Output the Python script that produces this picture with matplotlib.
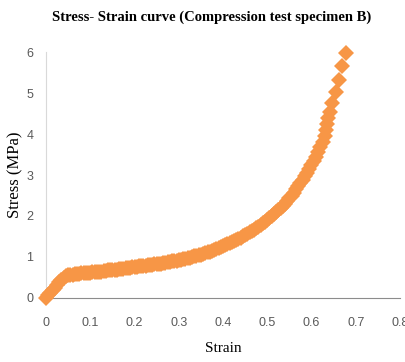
import numpy as np
import matplotlib
matplotlib.use('Agg')
import matplotlib.pyplot as plt

# values
strain = [0.000, 0.005, 0.010, 0.015, 0.020, 0.025, 0.030, 0.035, 0.040, 0.045,
          0.050, 0.055, 0.060, 0.065, 0.070, 0.075, 0.080, 0.085, 0.090, 0.095,
          0.100, 0.105, 0.110, 0.115, 0.120, 0.125, 0.130, 0.135, 0.140, 0.145,
          0.150, 0.155, 0.160, 0.165, 0.170, 0.175, 0.180, 0.185, 0.190, 0.195,
          0.200, 0.205, 0.210, 0.215, 0.220, 0.225, 0.230, 0.235, 0.240, 0.245,
          0.250, 0.255, 0.260, 0.265, 0.270, 0.275, 0.280, 0.285, 0.290, 0.295,
          0.300, 0.305, 0.310, 0.315, 0.320, 0.325, 0.330, 0.335, 0.340, 0.345,
          0.350, 0.355, 0.360, 0.365, 0.370, 0.375, 0.380, 0.385, 0.390, 0.395,
          0.400, 0.405, 0.410, 0.415, 0.420, 0.425, 0.430, 0.435, 0.440, 0.445,
          0.450, 0.455, 0.460, 0.465, 0.470, 0.475, 0.480, 0.485, 0.490, 0.495,
          0.500, 0.505, 0.510, 0.515, 0.520, 0.525, 0.530, 0.535, 0.540, 0.545,
          0.550, 0.555, 0.560, 0.565, 0.570, 0.575, 0.580, 0.585, 0.590, 0.595,
          0.600, 0.605, 0.610, 0.615, 0.620, 0.625, 0.630, 0.633, 0.636, 0.638,
          0.641, 0.647, 0.655, 0.662, 0.670, 0.679]
stress = [0.00, 0.06, 0.12, 0.19, 0.25, 0.32, 0.38, 0.44, 0.49, 0.53,
          0.55, 0.56, 0.57, 0.575, 0.58, 0.59, 0.60, 0.605, 0.61, 0.615,
          0.62, 0.625, 0.63, 0.635, 0.64, 0.645, 0.65, 0.66, 0.67, 0.675,
          0.68, 0.685, 0.69, 0.70, 0.71, 0.715, 0.72, 0.73, 0.74, 0.745,
          0.75, 0.76, 0.77, 0.775, 0.78, 0.79, 0.80, 0.805, 0.81, 0.82,
          0.83, 0.835, 0.84, 0.85, 0.86, 0.87, 0.88, 0.89, 0.90, 0.91,
          0.92, 0.935, 0.95, 0.96, 0.97, 0.985, 1.00, 1.015, 1.03, 1.045,
          1.06, 1.08, 1.10, 1.115, 1.13, 1.15, 1.17, 1.195, 1.22, 1.245,
          1.27, 1.29, 1.31, 1.335, 1.36, 1.385, 1.41, 1.44, 1.47, 1.50,
          1.53, 1.565, 1.60, 1.635, 1.67, 1.705, 1.74, 1.78, 1.82, 1.86,
          1.90, 1.945, 1.99, 2.04, 2.09, 2.14, 2.19, 2.245, 2.30, 2.365,
          2.43, 2.50, 2.57, 2.65, 2.73, 2.81, 2.89, 2.975, 3.06, 3.15,
          3.24, 3.345, 3.45, 3.565, 3.68, 3.815, 3.95, 4.10, 4.25, 4.40,
          4.54, 4.76, 5.03, 5.33, 5.66, 5.97]

xticks = [0, 0.1, 0.2, 0.3, 0.4, 0.5, 0.6, 0.7, 0.8]
xticklabels = ['0', '0.1', '0.2', '0.3', '0.4', '0.5', '0.6', '0.7', '0.8']
yticks = [0, 1, 2, 3, 4, 5, 6]

fig = plt.figure(figsize=(4.05, 3.62), dpi=100)
ax = fig.add_axes([0.1136, 0.177, 0.874, 0.679])

ax.plot(strain, stress, linestyle='none', marker='D', markersize=8.5,
        color='#F79646', markeredgewidth=0, clip_on=False, zorder=3)

ax.set_xlim(0, 0.8)
ax.set_ylim(0, 6)
ax.set_xticks(xticks)
ax.set_xticklabels(xticklabels)
ax.set_yticks(yticks)
ax.tick_params(length=0, labelsize=9, labelcolor='#595959')
ax.tick_params(axis='x', pad=14)
ax.tick_params(axis='y', pad=9)
for lbl in ax.get_xticklabels() + ax.get_yticklabels():
    lbl.set_family('Liberation Sans')

for s in ['top', 'right']:
    ax.spines[s].set_visible(False)
ax.spines['left'].set_color('#d9d9d9')
ax.spines['bottom'].set_color('#8c8c8c')

ax.set_xlabel('Strain', family='Liberation Serif', fontsize=11, labelpad=9)
ax.set_ylabel('Stress (MPa)', family='Liberation Serif', fontsize=12, labelpad=2)
fig.text(0.522, 0.953, 'Stress- Strain curve (Compression test specimen B)',
         family='Liberation Serif', fontweight='bold', fontsize=10.5,
         ha='center', va='center')

plt.savefig('out.png', dpi=100)
